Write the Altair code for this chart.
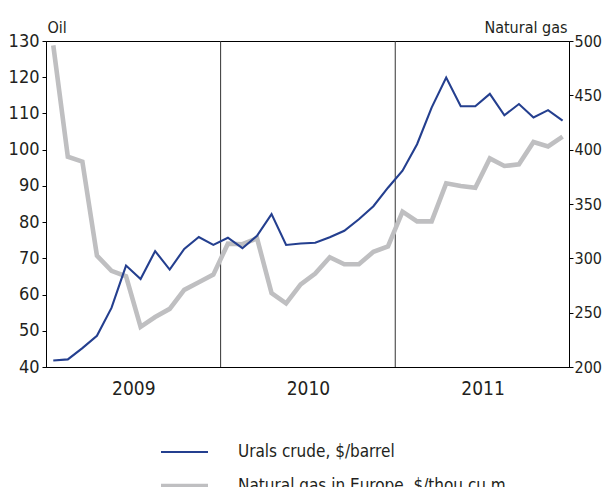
import altair as alt
import pandas as pd

# ---- data (monthly, Jan 2009 .. Dec 2011) ----
years = ["2009", "2010", "2011"]
oil = [41.8, 42.1, 45.2, 48.6, 56.3, 68.0, 64.3, 72.0, 66.9, 72.6, 75.9, 73.7,
       75.7, 72.8, 76.2, 82.2, 73.7, 74.1, 74.3, 75.8, 77.6, 80.8, 84.4, 89.5,
       94.2, 101.5, 111.6, 119.9, 112.0, 112.0, 115.4, 109.5, 112.6, 108.9, 110.9, 108.0]
gas = [496, 393.5, 389, 302.5, 288.5, 283.5, 237, 246, 253.5, 271, 278, 285,
       313.5, 313, 318.5, 268, 258.5, 276, 286, 301, 294.5, 294.5, 306, 311,
       343, 334, 334, 369, 366.5, 365, 392, 385, 386.5, 407, 403, 412]
series_names = ["Urals crude, $/barrel", "Natural gas in Europe, $/thou cu m"]
oil_ticks = [40, 50, 60, 70, 80, 90, 100, 110, 120, 130]
gas_ticks = [200, 250, 300, 350, 400, 450, 500]

FONT = "DejaVu Sans Condensed, Liberation Sans Narrow, sans-serif"
TXT = "#231f20"
BLUE = "#243f8f"
GRAY = "#bfbfc1"
W, H = 523, 326

n = len(oil)
df = pd.DataFrame({"idx": list(range(n)), "oil": oil, "gas": gas})
sep_df = pd.DataFrame({"idx": [12 * i - 0.5 for i in range(1, len(years))]})
year_pos = [12 * i + 5.5 for i in range(len(years))]
label_expr = "[" + ",".join("'%s'" % y for y in years) + "][floor(datum.value/12)]"
leg_df = pd.DataFrame({"label": series_names})

xscale = alt.Scale(domain=[-0.5, 35.44], nice=False, zero=False)
x_axis = alt.Axis(values=year_pos, labelExpr=label_expr, ticks=False,
                  grid=False, domain=True, domainColor="#000", title=None,
                  labelFont=FONT, labelFontSize=19, labelColor=TXT,
                  labelPadding=12)
x_enc = alt.X("idx:Q", scale=xscale, axis=x_axis)

seps = alt.Chart(sep_df).mark_rule(color="#333", strokeWidth=1).encode(x=x_enc)

gas_line = alt.Chart(df).mark_line(color=GRAY, strokeWidth=4.6, clip=True).encode(
    x=x_enc,
    y=alt.Y("gas:Q", scale=alt.Scale(domain=[200, 500], nice=False, zero=False),
            axis=alt.Axis(orient="right", values=gas_ticks, grid=False,
                          domainColor="#000", tickColor="#000", tickSize=4,
                          labelPadding=1, labelFont=FONT, labelFontSize=16,
                          labelColor=TXT, title="Natural gas", titleAngle=0,
                          titleX=-2, titleY=-9, titleAlign="right",
                          titleBaseline="alphabetic", titleFont=FONT,
                          titleFontSize=16, titleFontWeight="normal",
                          titleColor=TXT)))

oil_line = alt.Chart(df).mark_line(color=BLUE, strokeWidth=2.1, clip=True).encode(
    x=x_enc,
    y=alt.Y("oil:Q", scale=alt.Scale(domain=[40, 130], nice=False, zero=False),
            axis=alt.Axis(orient="left", values=oil_ticks, grid=False,
                          domainColor="#000", tickColor="#000", tickSize=4,
                          labelPadding=3, labelFont=FONT, labelFontSize=18,
                          labelColor=TXT, title="Oil", titleAngle=0,
                          titleX=1, titleY=-9, titleAlign="left",
                          titleBaseline="alphabetic", titleFont=FONT,
                          titleFontSize=16, titleFontWeight="normal",
                          titleColor=TXT)))

leg_rows = []
for i, (col, sw) in enumerate([(BLUE, 2.1), (GRAY, 4.6)]):
    ypix = 411 + 34 * i
    one = alt.Chart(leg_df).transform_filter(
        alt.datum.label == series_names[i])
    leg_rows.append(one.mark_rule(color=col, strokeWidth=sw).encode(
        x=alt.value(115), x2=alt.value(162), y=alt.value(ypix)))
    leg_rows.append(one.mark_text(align="left", baseline="middle", font=FONT,
                                  fontSize=17, color=TXT).encode(
        x=alt.value(192), y=alt.value(ypix), text="label:N"))

chart = alt.layer(seps, gas_line, oil_line, *leg_rows).resolve_scale(
    y="independent"
).properties(
    width=W, height=H,
    background="white",
    autosize=alt.AutoSizeParams(type="none"),
    padding={"left": 38, "top": 33, "right": 34, "bottom": 120},
).configure_view(stroke="#000", strokeWidth=1)

chart.save("out.html", embed_options={"renderer": "svg", "actions": False})
